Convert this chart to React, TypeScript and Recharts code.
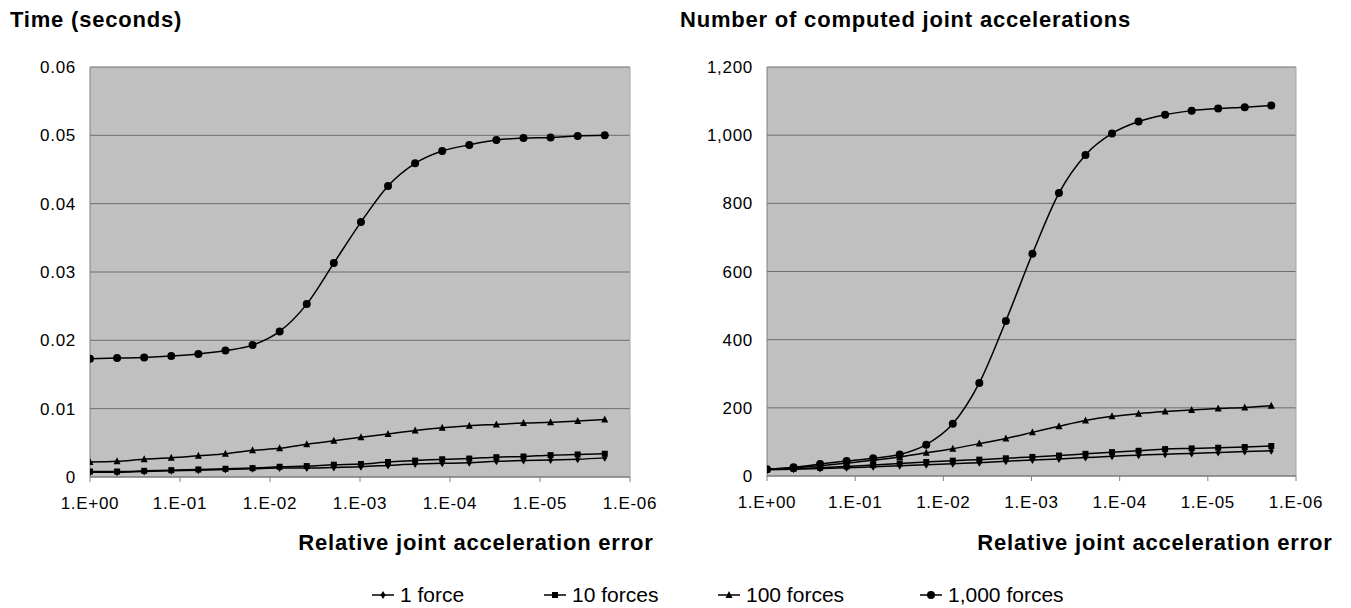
import React from 'react';
import { LineChart, Line, XAxis, YAxis, CartesianGrid, ReferenceLine } from 'recharts';

// relative joint acceleration error for each run (halved each step)
const errors = [
  1, 0.5, 0.25, 0.125, 0.0625, 0.03125, 0.015625, 0.0078125, 0.00390625, 0.001953125,
  0.0009765625, 0.00048828125, 0.000244140625, 0.0001220703125, 0.00006103515625,
  0.000030517578125, 0.0000152587890625, 0.00000762939453125, 0.000003814697265625,
  0.0000019073486328125,
];

// left panel: time in seconds
const timeOneForce = [0.0007, 0.0007, 0.0008, 0.0009, 0.001, 0.0011, 0.0012, 0.0013, 0.0013, 0.0014, 0.0015, 0.0017, 0.0019, 0.002, 0.0021, 0.0023, 0.0024, 0.0025, 0.0026, 0.0028];
const timeTenForces = [0.0008, 0.0008, 0.0009, 0.001, 0.0011, 0.0012, 0.0013, 0.0015, 0.0016, 0.0018, 0.0019, 0.0022, 0.0024, 0.0026, 0.0027, 0.0029, 0.003, 0.0032, 0.0033, 0.0034];
const timeHundredForces = [0.0022, 0.0023, 0.0026, 0.0028, 0.0031, 0.0034, 0.0039, 0.0042, 0.0048, 0.0053, 0.0058, 0.0063, 0.0068, 0.0072, 0.0075, 0.0077, 0.0079, 0.008, 0.0082, 0.0084];
const timeThousandForces = [0.0173, 0.0174, 0.0175, 0.0177, 0.018, 0.0185, 0.0193, 0.0213, 0.0253, 0.0313, 0.0373, 0.0426, 0.0459, 0.0477, 0.0486, 0.0493, 0.0496, 0.0497, 0.0499, 0.05];

// right panel: number of computed joint accelerations
const countOneForce = [18, 20, 22, 24, 27, 30, 33, 36, 39, 43, 47, 50, 54, 58, 61, 64, 66, 69, 72, 74];
const countTenForces = [19, 21, 24, 28, 32, 37, 41, 45, 48, 52, 56, 60, 65, 70, 74, 79, 81, 83, 85, 88];
const countHundredForces = [20, 24, 30, 38, 46, 56, 68, 80, 95, 110, 128, 146, 163, 175, 183, 189, 194, 198, 201, 206];
const countThousandForces = [20, 26, 35, 44, 52, 63, 92, 153, 273, 455, 652, 830, 942, 1005, 1040, 1060, 1072, 1078, 1082, 1087];

const xTicks = [1, 0.1, 0.01, 0.001, 0.0001, 0.00001, 0.000001];
const timeTicks = [0, 0.01, 0.02, 0.03, 0.04, 0.05, 0.06];
const countTicks = [0, 200, 400, 600, 800, 1000, 1200];

const seriesNames = ['1 force', '10 forces', '100 forces', '1,000 forces'];

const timeData = errors.map((x, i) => ({
  x,
  s1: timeOneForce[i],
  s10: timeTenForces[i],
  s100: timeHundredForces[i],
  s1000: timeThousandForces[i],
}));

const countData = errors.map((x, i) => ({
  x,
  s1: countOneForce[i],
  s10: countTenForces[i],
  s100: countHundredForces[i],
  s1000: countThousandForces[i],
}));

const fmtErr = (v: number) => {
  const e = Math.round(Math.log10(v));
  const a = Math.abs(e);
  return '1.E' + (e >= 0 ? '+' : '-') + (a < 10 ? '0' : '') + a;
};

const Diamond = ({ cx, cy }: any) =>
  cx == null ? null : (
    <polygon points={`${cx},${cy - 4} ${cx + 2.5},${cy} ${cx},${cy + 4} ${cx - 2.5},${cy}`} fill="#000" />
  );
const Square = ({ cx, cy }: any) =>
  cx == null ? null : <rect x={cx - 3} y={cy - 3} width={6} height={6} fill="#000" />;
const Triangle = ({ cx, cy }: any) =>
  cx == null ? null : (
    <polygon points={`${cx},${cy - 4} ${cx + 3.5},${cy + 3} ${cx - 3.5},${cy + 3}`} fill="#000" />
  );
const Circle = ({ cx, cy }: any) => (cx == null ? null : <circle cx={cx} cy={cy} r={4} fill="#000" />);

const markers = [Diamond, Square, Triangle, Circle];
const keys = ['s1', 's10', 's100', 's1000'];

interface PanelProps {
  data: any[];
  yTicks: number[];
  yFmt: (v: number) => string;
  left: number;
  right: number;
  bottom: number;
}

function Panel({ data, yTicks, yFmt, left, right, bottom }: PanelProps) {
  return (
    <div style={{ position: 'absolute', left, top: 0 }}>
      <LineChart width={660} height={520} data={data} margin={{ top: 67, right, left: 0, bottom }}>
        <CartesianGrid vertical={false} stroke="#6e6e6e" fill="#c0c0c0" fillOpacity={1} />
        <XAxis
          dataKey="x"
          type="number"
          scale="log"
          domain={[0.000001, 1]}
          reversed
          allowDataOverflow
          ticks={xTicks}
          interval={0}
          tickFormatter={fmtErr}
          tickSize={5}
          tickMargin={15}
          height={30}
          stroke="#808080"
          tick={{ fill: '#000', fontSize: 17 }}
        />
        <YAxis
          type="number"
          domain={[yTicks[0], yTicks[yTicks.length - 1]]}
          ticks={yTicks}
          interval={0}
          tickFormatter={yFmt}
          tickLine={false}
          tickSize={6}
          tickMargin={8}
          width={90}
          stroke="#808080"
          tick={{ fill: '#000', fontSize: 17 }}
        />
        <ReferenceLine x={0.000001} stroke="#a8a8a8" />
        {keys.map((k, i) => {
          const M = markers[i];
          return (
            <Line
              key={k}
              dataKey={k}
              name={seriesNames[i]}
              type="monotone"
              stroke="#000"
              strokeWidth={1.5}
              dot={(p: any) => <M key={p.index} cx={p.cx} cy={p.cy} />}
              activeDot={false}
              isAnimationActive={false}
            />
          );
        })}
      </LineChart>
    </div>
  );
}

const legendX = [372, 544, 718, 920];

export default function App() {
  return (
    <div
      style={{
        position: 'absolute',
        left: 0,
        top: 0,
        width: 1351,
        height: 608,
        background: '#fff',
        fontFamily: '"Liberation Sans", Arial, sans-serif',
        letterSpacing: '0.7px',
      }}
    >
      <Panel data={timeData} yTicks={timeTicks} yFmt={(v) => String(v)} left={0} right={30} bottom={13} />
      <Panel
        data={countData}
        yTicks={countTicks}
        yFmt={(v) => v.toLocaleString('en-US')}
        left={677}
        right={41}
        bottom={14}
      />
      <svg
        width={1351}
        height={608}
        style={{ position: 'absolute', left: 0, top: 0, pointerEvents: 'none' }}
      >
        <g fontWeight="bold" fontSize={22} fill="#000" style={{ letterSpacing: '0.8px' }}>
          <text x={10} y={27}>Time (seconds)</text>
          <text x={680} y={27}>Number of computed joint accelerations</text>
          <text x={476} y={550} textAnchor="middle">Relative joint acceleration error</text>
          <text x={1155} y={550} textAnchor="middle">Relative joint acceleration error</text>
        </g>
        <g style={{ letterSpacing: '0px' }}>
          {seriesNames.map((n, i) => {
            const M = markers[i];
            const x = legendX[i];
            return (
              <g key={n}>
                <line x1={x} y1={595} x2={x + 22} y2={595} stroke="#000" strokeWidth={1.5} />
                <M cx={x + 11} cy={595} />
                <text x={x + 28} y={602} fontSize={21} fill="#000">
                  {n}
                </text>
              </g>
            );
          })}
        </g>
      </svg>
    </div>
  );
}
